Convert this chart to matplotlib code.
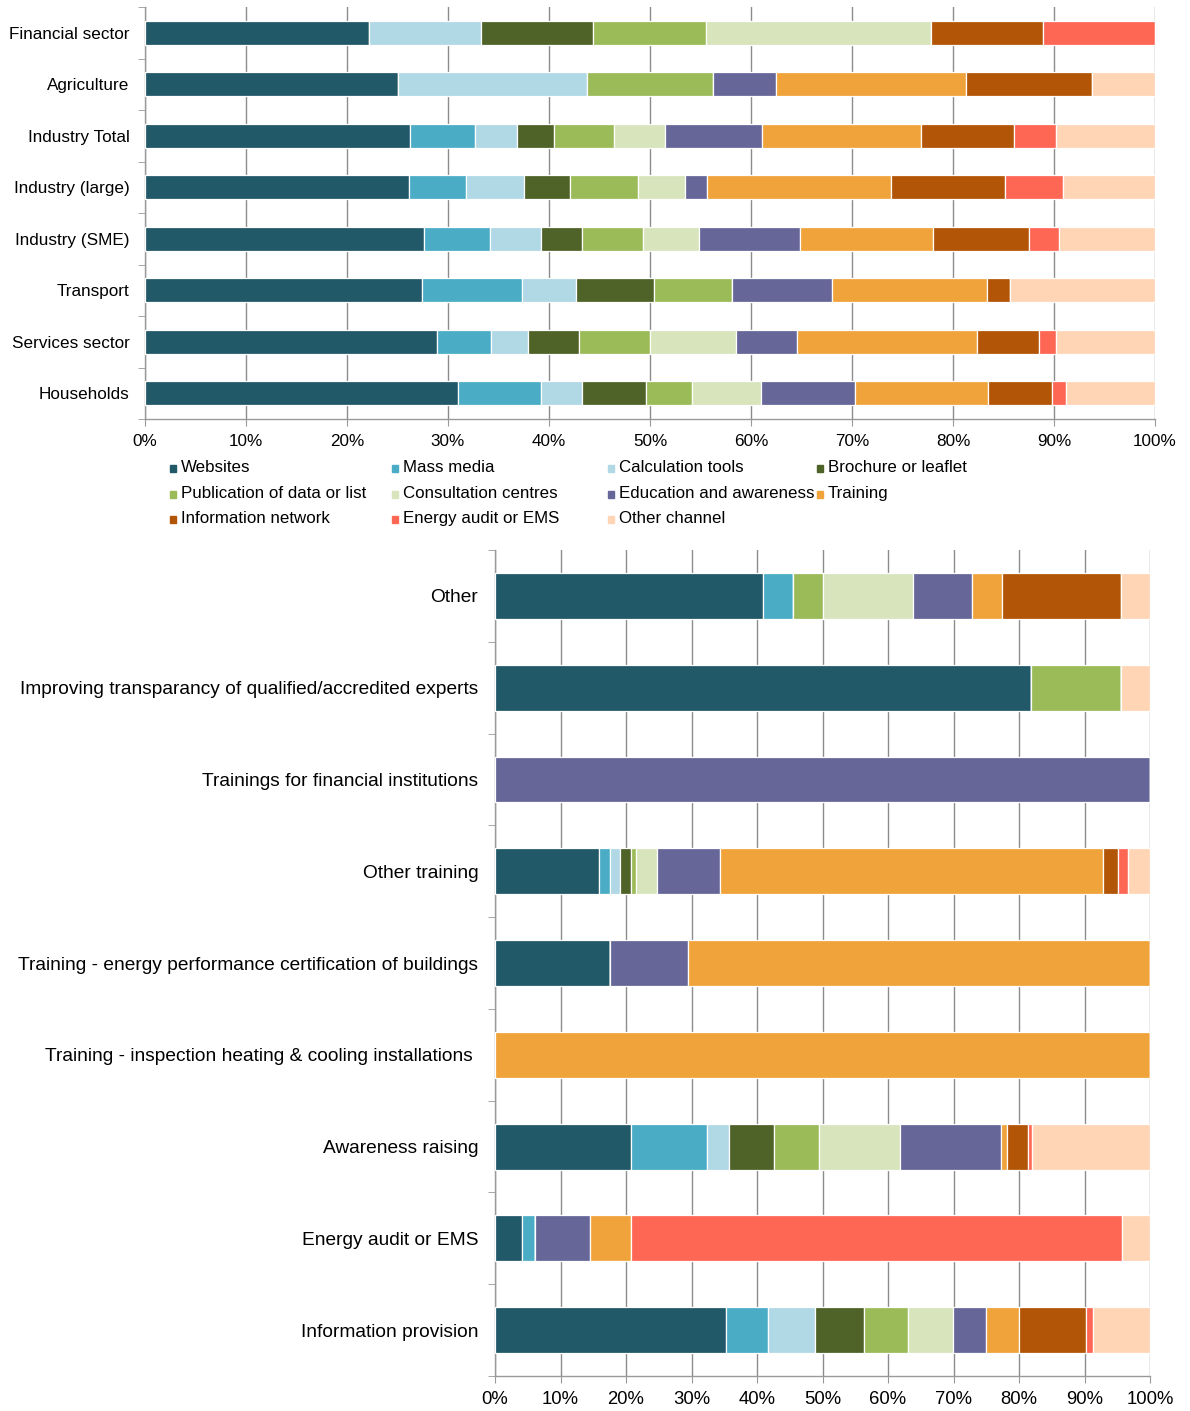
import matplotlib
matplotlib.use("Agg")
import matplotlib.pyplot as plt
from matplotlib.patches import Rectangle
from matplotlib.ticker import FixedLocator, FuncFormatter

plt.rcParams["font.family"] = ["Liberation Sans", "DejaVu Sans"]

# ------------------------------------------------------------
# Data
# ------------------------------------------------------------
channels = [
    "Websites", "Mass media", "Calculation tools", "Brochure or leaflet",
    "Publication of data or list", "Consultation centres",
    "Education and awareness", "Training", "Information network",
    "Energy audit or EMS", "Other channel",
]
colors = [
    "#225968", "#4BACC6", "#B0D9E5", "#4F6228", "#9BBB59", "#D8E4BC",
    "#666699", "#F0A33A", "#B35507", "#FF6755", "#FFD5B5",
]

sectors = [
    "Financial sector", "Agriculture", "Industry Total", "Industry (large)",
    "Industry (SME)", "Transport", "Services sector", "Households",
]
# one list per sector, in the order of `channels` (percent)
financial = [22.2, 0, 11.1, 11.1, 11.1, 22.3, 0, 0, 11.1, 11.1, 0]
agriculture = [25.0, 0, 18.75, 0, 12.5, 0, 6.25, 18.75, 12.5, 0, 6.25]
industry_total = [26.2, 6.5, 4.1, 3.7, 5.9, 5.1, 9.6, 15.7, 9.2, 4.2, 9.8]
industry_large = [26.1, 5.7, 5.7, 4.55, 6.8, 4.6, 2.2, 18.2, 11.3, 5.7, 9.15]
industry_sme = [27.6, 6.6, 5.0, 4.1, 6.0, 5.6, 10.0, 13.1, 9.5, 3.0, 9.5]
transport = [27.4, 9.9, 5.4, 7.7, 7.7, 0, 9.9, 15.4, 2.2, 0, 14.4]
services = [28.9, 5.35, 3.7, 5.05, 7.0, 8.5, 6.1, 17.8, 6.1, 1.7, 9.8]
households = [31.0, 8.2, 4.1, 6.3, 4.55, 6.8, 9.3, 13.2, 6.4, 1.35, 8.8]
sector_values = [financial, agriculture, industry_total, industry_large,
                 industry_sme, transport, services, households]

measures = [
    "Other",
    "Improving transparancy of qualified/accredited experts",
    "Trainings for financial institutions",
    "Other training",
    "Training - energy performance certification of buildings",
    "Training - inspection heating & cooling installations ",
    "Awareness raising",
    "Energy audit or EMS",
    "Information provision",
]
m_other = [40.95, 4.6, 0, 0, 4.5, 13.7, 9.0, 4.6, 18.2, 0, 4.45]
m_transparency = [81.8, 0, 0, 0, 13.8, 0, 0, 0, 0, 0, 4.4]
m_fin_training = [0, 0, 0, 0, 0, 0, 100, 0, 0, 0, 0]
m_other_training = [15.9, 1.7, 1.5, 1.6, 0.85, 3.25, 9.5, 58.5, 2.3, 1.5, 3.4]
m_epc = [17.6, 0, 0, 0, 0, 0, 11.9, 70.5, 0, 0, 0]
m_inspection = [0, 0, 0, 0, 0, 0, 0, 100, 0, 0, 0]
m_awareness = [20.8, 11.6, 3.25, 7.0, 6.75, 12.5, 15.4, 0.9, 3.2, 0.6, 18.0]
m_audit = [4.1, 2.05, 0, 0, 0, 0, 8.4, 6.2, 0, 75.0, 4.25]
m_info = [35.3, 6.4, 7.2, 7.4, 6.8, 6.8, 5.1, 5.0, 10.3, 1.0, 8.7]
measure_values = [m_other, m_transparency, m_fin_training, m_other_training,
                  m_epc, m_inspection, m_awareness, m_audit, m_info]

# ------------------------------------------------------------
# Figure
# ------------------------------------------------------------
W, H = 1190, 1411
fig = plt.figure(figsize=(W / 100, H / 100), dpi=100)


def px_axes(x0, y0, x1, y1):
    return fig.add_axes([x0 / W, 1 - y1 / H, (x1 - x0) / W, (y1 - y0) / H])


def stacked(ax, labels, values, height, fs_y, fs_x, ypad):
    n = len(labels)
    ypos = list(range(n))
    for j, name in enumerate(channels):
        left = [sum(v[:j]) for v in values]
        width = [v[j] for v in values]
        ax.barh(ypos, width, left=left, height=height, color=colors[j],
                edgecolor="white", linewidth=0.9, label=name, zorder=3)
    ax.set_xlim(0, 100)
    ax.set_ylim(n - 0.5, -0.5)
    ax.set_xticks(range(0, 101, 10))
    ax.xaxis.set_major_formatter(FuncFormatter(lambda v, p: f"{v:.0f}%"))
    ax.set_yticks(ypos)
    ax.set_yticklabels(labels, fontsize=fs_y)
    ax.yaxis.set_minor_locator(FixedLocator([i + 0.5 for i in range(-1, n)]))
    ax.tick_params(axis="y", which="major", length=0, pad=ypad)
    ax.tick_params(axis="y", which="minor", length=5, color="#999999")
    ax.tick_params(axis="x", length=5, color="#999999", labelsize=fs_x, pad=6)
    ax.grid(axis="x", color="#8c8c8c", linewidth=1.0, zorder=0)
    for s in ["top", "right"]:
        ax.spines[s].set_visible(False)
    for s in ["left", "bottom"]:
        ax.spines[s].set_color("#999999")
        ax.spines[s].set_linewidth(1.0)


ax1 = px_axes(145, 7, 1155, 419)
stacked(ax1, sectors, sector_values, 0.47, 12.3, 12.3, 11)

ax2 = px_axes(495, 550, 1150, 1376)
stacked(ax2, measures, measure_values, 0.5, 13.8, 13.3, 12)

# legend (Excel-like, row-major)
col_x = [170, 392, 608, 817]
row_y = [468, 494, 519]
for k, name in enumerate(channels):
    r, c = divmod(k, 4)
    x, y = col_x[c], row_y[r]
    fig.add_artist(Rectangle((x / W, 1 - (y + 3.5) / H), 6 / W, 7 / H,
                             transform=fig.transFigure, color=colors[k]))
    fig.text((x + 11) / W, 1 - y / H, name, fontsize=12.2, va="center",
             ha="left")

fig.savefig("out.png", dpi=100)
